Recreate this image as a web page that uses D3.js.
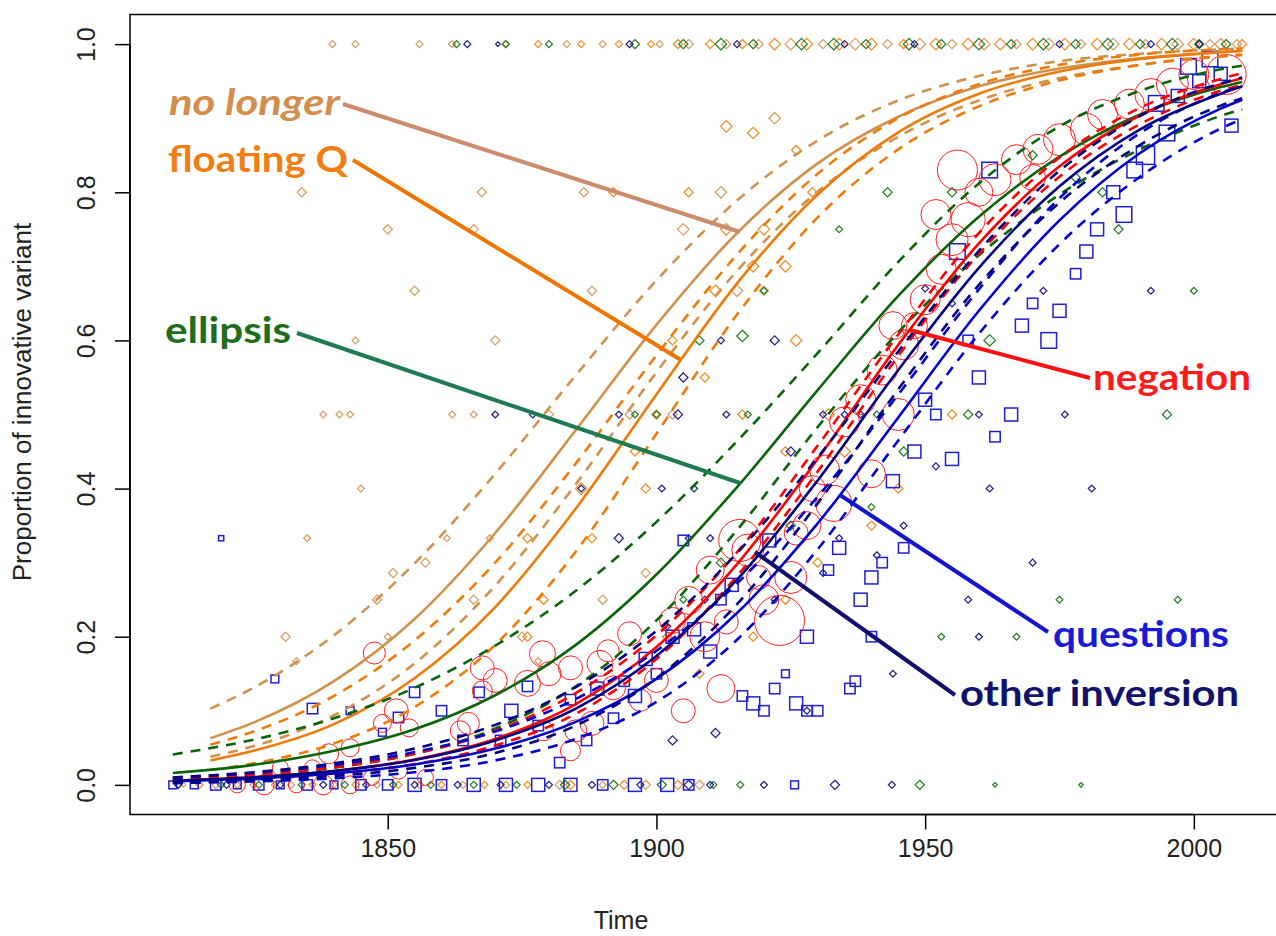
<!DOCTYPE html>
<html>
<head>
<meta charset="utf-8">
<script src="https://cdn.jsdelivr.net/npm/d3@7"></script>
<style>
  body { margin: 0; background: #fff; }
  .graph svg { display: block; }
</style>
</head>
<body>
<div class="graph"></div>
<script>
const fitYearsLong = [1810, 1825, 1840, 1855, 1870, 1885, 1900, 1915, 1930, 1945, 1960, 1975, 1990, 2005, 2009];
const fitYearsShort = [1817, 1825, 1840, 1855, 1870, 1885, 1900, 1915, 1930, 1945, 1960, 1975, 1990, 2005, 2009];

// fitted proportion + confidence band, per construction
const noLongerFit   = [0.063, 0.084, 0.140, 0.224, 0.340, 0.479, 0.621, 0.745, 0.839, 0.902, 0.943, 0.967, 0.981, 0.989, 0.991];
const noLongerUpper = [0.103, 0.131, 0.202, 0.299, 0.420, 0.553, 0.681, 0.789, 0.870, 0.924, 0.957, 0.977, 0.987, 0.993, 0.994];
const noLongerLower = [0.038, 0.052, 0.094, 0.164, 0.269, 0.406, 0.557, 0.694, 0.801, 0.875, 0.924, 0.954, 0.972, 0.983, 0.985];

const floatingFit   = [0.033, 0.046, 0.082, 0.144, 0.240, 0.373, 0.527, 0.677, 0.797, 0.881, 0.933, 0.963, 0.980, 0.989, 0.991];
const floatingUpper = [0.054, 0.072, 0.120, 0.195, 0.300, 0.434, 0.580, 0.716, 0.825, 0.900, 0.946, 0.972, 0.986, 0.993, 0.994];
const floatingLower = [0.020, 0.029, 0.056, 0.105, 0.189, 0.315, 0.474, 0.635, 0.766, 0.858, 0.916, 0.951, 0.972, 0.984, 0.986];

const ellipsisFit   = [0.016, 0.027, 0.046, 0.075, 0.121, 0.189, 0.284, 0.402, 0.533, 0.660, 0.767, 0.848, 0.905, 0.942, 0.949];
const ellipsisUpper = [0.041, 0.061, 0.090, 0.131, 0.188, 0.262, 0.355, 0.464, 0.583, 0.706, 0.812, 0.889, 0.937, 0.966, 0.971];
const ellipsisLower = [0.006, 0.012, 0.023, 0.042, 0.076, 0.133, 0.222, 0.344, 0.483, 0.611, 0.715, 0.797, 0.858, 0.903, 0.912];

const negationFit   = [0.0055, 0.0102, 0.0188, 0.0343, 0.062, 0.109, 0.186, 0.298, 0.440, 0.594, 0.731, 0.835, 0.904, 0.946, 0.954];
const negationUpper = [0.0075, 0.0135, 0.0239, 0.042, 0.073, 0.124, 0.202, 0.314, 0.458, 0.608, 0.745, 0.847, 0.914, 0.953, 0.961];
const negationLower = [0.0040, 0.0077, 0.0148, 0.028, 0.053, 0.096, 0.170, 0.282, 0.423, 0.579, 0.717, 0.821, 0.892, 0.937, 0.945];

const questionsFit   = [0.0048, 0.0086, 0.0155, 0.0276, 0.049, 0.085, 0.143, 0.232, 0.353, 0.496, 0.640, 0.762, 0.853, 0.913, 0.925];
const questionsUpper = [0.0097, 0.0162, 0.0269, 0.0443, 0.072, 0.116, 0.181, 0.272, 0.389, 0.527, 0.669, 0.792, 0.880, 0.934, 0.944];
const questionsLower = [0.0024, 0.0046, 0.0089, 0.0171, 0.033, 0.062, 0.112, 0.196, 0.318, 0.465, 0.609, 0.730, 0.821, 0.886, 0.899];

const otherFit   = [0.0057, 0.0103, 0.0187, 0.0336, 0.060, 0.103, 0.174, 0.277, 0.411, 0.560, 0.698, 0.808, 0.885, 0.933, 0.943];
const otherUpper = [0.010, 0.0171, 0.029, 0.049, 0.081, 0.132, 0.208, 0.313, 0.442, 0.585, 0.721, 0.829, 0.903, 0.947, 0.955];
const otherLower = [0.0032, 0.0062, 0.012, 0.0229, 0.043, 0.080, 0.144, 0.244, 0.380, 0.534, 0.675, 0.786, 0.864, 0.917, 0.927];

// observed proportions: [year, proportion, marker size]
const noLongerPts = [
  [1839.7,1,3],[1844.0,1,3],[1855.9,1,3],[1862.0,1,3],[1871.9,1,3],[1883.3,1,3],[1890,1,3],[1900.6,1,3],[1906,1,4],[1913,1,4],
  [1919,1,4],[1925,1,5],[1931,1,4],[1937,1,5],[1943,1,4],[1949,1,5],[1955,1,4],[1961,1,5],[1967,1,4],[1973,1,5],[1979,1,4],
  [1985,1,5],[1991,1,4],[1997,1,5],[2003,1,4],[2008,1,4],
  [1834,0.8,4],[1867.5,0.8,4],[1886.5,0.8,4],[1850,0.75,4],[1866,0.75,4],[1855,0.667,4],[1888,0.667,4],[1844,0.6,3],[1870,0.6,4],
  [1838,0.5,3],[1841,0.5,3],[1843,0.5,3],[1862,0.5,3],[1866,0.5,3],[1880,0.5,4],[1835,0.333,3],[1861,0.333,3],[1869,0.333,3],
  [1845,0.4,3],[1831,0.2,4],[1848,0.25,4],[1851,0.286,4],[1857,0.3,4],[1850,0.2,3],[1866,0.25,4],[1875,0.2,4],[1878,0.167,3],
  [1833,0.167,3],[1890,0.25,4],[1898,0.286,4],[1905,0.75,5],[1912,0.8,5],[1922,0.9,5],[1915,0.667,5],[1920,0.667,4],[1895,0.5,4],[1903,0.5,4],
  [1812,0,2],[1818,0,3],[1825,0,3],[1832,0,3],[1840,0,3],[1848,0,3],[1856,0,3],[1864,0,3],[1872,0,3],[1882,0,4],[1890,0,3],[1898,0,4],[1908,0,4]
];
const floatingPts = [
  [1878,1,3],[1886,1,3],[1893,1,3],[1899,1,3],[1904,1,4],[1910,1,4],[1916,1,4],[1922,1,5],[1928,1,5],[1934,1,5],[1940,1,5],[1946,1,4],
  [1952,1,5],[1958,1,5],[1964,1,5],[1970,1,5],[1976,1,5],[1982,1,5],[1988,1,5],[1994,1,5],[2000,1,5],[2005,1,5],[2009,1,4],
  [1913,0.889,5],[1918,0.88,5],[1926,0.857,4],[1929,0.8,4],[1913,0.75,5],[1920,0.75,5],[1906,0.8,4],[1918,0.7,5],[1924,0.7,5],
  [1911,0.667,5],[1926,0.6,5],[1903,0.6,4],[1909,0.55,4],[1916,0.5,4],[1900,0.5,4],[1896,0.45,4],[1924,0.45,4],[1932,0.5,5],[1935,0.45,5],
  [1888,0.333,4],[1876,0.333,4],[1886,0.4,5],[1898,0.4,4],[1879,0.25,4],[1876,0.2,4],[1902,0.2,4],[1918,0.2,4],[1908,0.15,4],[1924,0.25,4],
  [1930,0.3,4],[1945,0.4,4],[1955,0.5,4],[1940,0.35,4],[1892,0.8,4],
  [1815,0,3],[1822,0,3],[1829,0,3],[1836,0,3],[1844,0,3],[1852,0,3],[1860,0,3],[1868,0,3],[1876,0,3],[1884,0,4],[1894,0,4],[1904,0,4]
];
const ellipsisPts = [
  [1862.8,1,3],[1872,1,3],[1880,1,3],[1896,1,4],[1905,1,4],[1912,1,5],[1918,1,4],[1927,1,5],[1933,1,5],[1939,1,4],[1947,1,5],[1953,1,4],
  [1960,1,5],[1966,1,4],[1972,1,5],[1978,1,4],[1984,1,5],[1990,1,4],[1996,1,5],[2001,1,4],[2006,1,4],
  [1908,0.6,4],[1916,0.606,5],[1900,0.5,3],[1896,0.5,3],[1917,0.5,3],[1905,0.25,3],[1912,0.3,4],[1941,0.5,3],[1920,0.667,3],[1934,0.75,3],
  [1943,0.8,4],[1955,0.8,4],[1957,0.7,4],[1962,0.6,5],[1958,0.5,4],[1970,0.85,4],[1983,0.8,4],[1995,0.5,4],[1997,0.25,3],[1975,0.25,3],
  [1967,0.2,3],[1953,0.2,3],[1940,0.375,3],[1978,0.82,4],[2000,0.667,3],[1925,0.35,4],[1946,0.45,4],[1986,0.75,4],
  [1811,0,3],[1819,0,3],[1826,0,3],[1834,0,3],[1842,0,3],[1851,0,3],[1858,0,3],[1866,0,3],[1874,0,3],[1883,0,4],[1892,0,4],[1901,0,4],
  [1910.6,0,3],[1915.6,0,3],[1949,0,4],[1963,0,2],[1979,0,2]
];
const otherPts = [
  [1864.8,1,3],[1870.5,1,2],[1895,1,3],[1915,1,3],[1935,1,3],[1948,1,3],[1975,1,3],[1992,1,3],[2001,1,3],
  [1870,0.5,3],[1877,0.5,3],[1893,0.5,3],[1904,0.5,4],[1913,0.5,3],[1931,0.5,3],[1935,0.5,3],[1938,0.5,3],[1960,0.5,3],[1976,0.5,3],
  [1886,0.4,3],[1901,0.4,3],[1907,0.4,3],[1893,0.333,4],[1906,0.333,3],[1910,0.333,3],[1909,0.25,3],[1902,0.214,3],[1922,0.25,3],
  [1934,0.333,3],[1931,0.286,3],[1912,0.6,3],[1922,0.6,4],[1905,0.55,4],[1925,0.45,4],[1944,0.15,3],[1946,0.35,3],[1950,0.67,3],
  [1952,0.43,3],[1958,0.25,3],[1962,0.4,3],[1970,0.3,3],[1972,0.667,3],[1981,0.4,3],[1992,0.667,3],[1903,0.06,4],[1911,0.07,4],
  [1928,0.1,3],[1941,0.31,3],[1955,0.65,3],[1960,0.2,3],
  [1811,0,3],[1820,0,3],[1830,0,3],[1838,0,3],[1846,0,3],[1855,0,3],[1863,0,3],[1871,0,3],[1880,0,3],[1888,0,3],[1897,0,3],
  [1906,0,4],[1910,0,3],[1920,0,3],[1933.2,0,4],[1943.8,0,3]
];
const questionsPts = [
  [1810,0,3],[1814,0,3],[1818,0,4],[1822,0,3],[1826,0,4],[1830,0,3],[1835,0,4],[1840,0,3],[1845,0,4],[1850,0,4],[1855,0,5],
  [1860,0,4],[1866,0,5],[1872,0,5],[1878,0,5],[1884,0,5],[1890,0,4],[1896,0,5],[1902,0,5],[1906,0,4],[1925.7,0,3],
  [1819,0.333,2],[1829,0.143,3],[1836,0.103,4],[1843,0.1,3],[1849,0.071,3],[1852,0.091,4],[1855,0.125,4],[1860,0.1,4],[1864,0.06,4],
  [1867,0.125,4],[1871,0.06,4],[1873,0.1,5],[1876,0.133,4],[1878,0.08,4],[1882,0.03,4],[1884,0.115,4],[1887,0.06,4],[1889,0.13,5],
  [1892,0.09,4],[1894,0.14,4],[1896,0.12,5],[1898,0.17,5],[1900,0.15,4],[1903,0.2,5],[1905,0.33,4],[1907,0.21,5],[1910,0.18,5],
  [1912,0.25,4],[1914,0.27,5],[1916,0.12,4],[1918,0.11,5],[1920,0.1,4],[1922,0.13,4],[1924,0.15,3],[1926,0.11,5],[1928,0.1,4],
  [1932,0.29,4],[1934,0.32,5],[1936,0.13,4],[1938,0.25,5],[1940,0.28,5],[1942,0.3,4],[1944,0.41,5],[1946,0.32,4],[1948,0.45,5],
  [1950,0.52,5],[1952,0.5,4],[1955,0.44,5],[1958,0.6,4],[1960,0.55,5],[1963,0.47,4],[1966,0.5,5],[1968,0.62,5],[1970,0.65,4],
  [1973,0.6,6],[1975,0.64,5],[1978,0.69,4],[1980,0.72,5],[1982,0.75,5],[1985,0.8,5],[1987,0.77,6],[1989,0.83,6],[1991,0.85,7],
  [1993,0.92,6],[1995,0.88,6],[1997,0.93,5],[1999,0.97,6],[2001,0.95,5],[2003,0.98,6],[2005,0.96,5],[2007,0.89,5],[1956,0.72,6],
  [1962,0.83,6],[1940,0.2,4],[1937,0.14,4],[1930,0.1,4],[1921,0.33,5],[1928,0.2,5]
];
const negationPts = [
  [1822,0,8],[1827,0,10],[1833,0,8],[1838,0,10],[1843,0,9],[1847,0.01,8],[1852,0.02,9],[1857,0.01,8],
  [1847.5,0.178,11],[1851.6,0.10,12],[1849,0.083,9],[1854,0.077,9],[1839,0.042,10],[1836,0.023,8],[1830,0.023,8],[1843,0.05,9],
  [1867.6,0.158,12],[1870,0.141,12],[1867.6,0.127,10],[1876,0.137,13],[1865,0.083,11],[1863.5,0.073,10],[1878.8,0.177,13],
  [1880,0.15,12],[1884,0.158,12],[1889.5,0.164,13],[1892,0.131,12],[1888,0.083,12],[1885,0.073,11],[1879,0.073,10],[1895,0.204,12],
  [1891,0.181,11],[1884,0.046,10],[1897,0.114,11],[1900,0.141,12],[1903,0.222,13],[1906,0.249,14],[1910,0.29,14],[1917,0.317,16],
  [1922.9,0.222,25],[1915.5,0.33,21],[1909,0.2,15],[1912,0.13,14],[1905,0.1,12],[1920,0.25,15],[1925,0.28,16],[1928,0.35,14],
  [1931.3,0.425,15],[1935,0.49,15],[1938,0.52,15],[1942,0.56,15],[1946,0.594,15],[1950,0.655,15],[1953,0.696,15],[1955,0.736,16],
  [1956,0.83,20],[1958,0.763,17],[1963,0.817,16],[1967,0.844,15],[1971,0.858,15],[1975,0.871,16],[1980,0.885,16],[1983,0.905,15],
  [1988,0.919,15],[1992,0.932,16],[1996,0.946,16],[2000,0.959,15],[2006,0.959,20],[1933,0.38,18],[1940,0.42,14],[1945,0.5,16],
  [1952,0.77,15],[1960,0.8,14],[1970,0.82,13],[1929,0.4,13],[1926,0.34,12],[1919,0.28,12],[1913,0.22,12],[1944,0.62,14],[1948,0.62,13]
];

// axis ticks
const xTicks = [1850, 1900, 1950, 2000];
const yTicks = [0, 0.2, 0.4, 0.6, 0.8, 1.0];

const svgDim = { w: 1276, h: 936 };
const box = { left: 130, right: 1285, top: 14.5, bottom: 814.5 };

const svg = d3.select('.graph').append('svg')
    .attr('width', svgDim.w).attr('height', svgDim.h)
    .style('font-family', '"Liberation Sans", Arial, sans-serif');

// R-style 4% padding around the data range
const xScale = d3.scaleLinear().domain([1802.04, 2016.96]).range([box.left, box.right]);
const yScale = d3.scaleLinear().domain([-0.04, 1.04]).range([box.bottom, box.top]);

const plot = svg.append('g');

const diamond = s => `M0,${-s}L${s},0L0,${s}L${-s},0Z`;

const drawDiamonds = (pts, color) => {
    plot.append('g').selectAll('path').data(pts).enter().append('path')
        .attr('d', d => diamond(d[2] * 1.15))
        .attr('transform', d => `translate(${xScale(d[0])},${yScale(d[1])})`)
        .attr('fill', 'none').attr('stroke', color).attr('stroke-width', 1.2);
};

drawDiamonds(noLongerPts, '#D99A5E');
drawDiamonds(floatingPts, '#F08A20');
drawDiamonds(ellipsisPts, '#1E7A1E');
drawDiamonds(otherPts, '#1A1A8C');

plot.append('g').selectAll('rect').data(questionsPts).enter().append('rect')
    .attr('x', d => xScale(d[0]) - d[2] * 1.3)
    .attr('y', d => yScale(d[1]) - d[2] * 1.3)
    .attr('width', d => d[2] * 2.6).attr('height', d => d[2] * 2.6)
    .attr('fill', 'none').attr('stroke', '#1E1ED2').attr('stroke-width', 1.5);

plot.append('g').selectAll('circle').data(negationPts).enter().append('circle')
    .attr('cx', d => xScale(d[0])).attr('cy', d => yScale(d[1])).attr('r', d => d[2])
    .attr('fill', 'none').attr('stroke', '#FF2020').attr('stroke-width', 1);

// fitted curves
const fits = [
    { years: fitYearsShort, fit: noLongerFit, up: noLongerUpper, lo: noLongerLower, color: '#D0914F' },
    { years: fitYearsShort, fit: floatingFit, up: floatingUpper, lo: floatingLower, color: '#EE7A0A' },
    { years: fitYearsLong, fit: ellipsisFit, up: ellipsisUpper, lo: ellipsisLower, color: '#0A640A' },
    { years: fitYearsLong, fit: negationFit, up: negationUpper, lo: negationLower, color: '#FF0000' },
    { years: fitYearsLong, fit: questionsFit, up: questionsUpper, lo: questionsLower, color: '#0000CD' },
    { years: fitYearsLong, fit: otherFit, up: otherUpper, lo: otherLower, color: '#000080' }
];

const line = d3.line().x(d => xScale(d[0])).y(d => yScale(d[1])).curve(d3.curveMonotoneX);

fits.forEach(f => {
    [f.up, f.lo].forEach(vals => {
        plot.append('path').attr('d', line(f.years.map((yr, i) => [yr, vals[i]])))
            .attr('fill', 'none').attr('stroke', f.color).attr('stroke-width', 2.6)
            .attr('stroke-dasharray', '10,8');
    });
    plot.append('path').attr('d', line(f.years.map((yr, i) => [yr, f.fit[i]])))
        .attr('fill', 'none').attr('stroke', f.color).attr('stroke-width', 2.6);
});

// box and axes
svg.append('rect').attr('x', box.left).attr('y', box.top)
    .attr('width', box.right - box.left).attr('height', box.bottom - box.top)
    .attr('fill', 'none').attr('stroke', '#000').attr('stroke-width', 1.5);

const xAxis = d3.axisBottom(xScale).tickValues(xTicks).tickSize(15).tickPadding(10).tickFormat(d3.format('d'));
const gx = svg.append('g').attr('transform', `translate(0,${box.bottom})`).call(xAxis).attr('id', 'x-axis');
gx.select('.domain').attr('d', `M${xScale(1850)},0H${xScale(2000)}`).attr('stroke-width', 1.5);
gx.selectAll('.tick line').attr('stroke-width', 1.5);
gx.selectAll('text').attr('font-size', 25).attr('font-family', '"Liberation Sans", Arial, sans-serif').attr('fill', '#222');

const yAxis = d3.axisLeft(yScale).tickValues(yTicks).tickSize(15).tickFormat(d3.format('.1f'));
const gy = svg.append('g').attr('transform', `translate(${box.left},0)`).call(yAxis).attr('id', 'y-axis');
gy.select('.domain').attr('d', `M0,${yScale(0)}V${yScale(1)}`).attr('stroke-width', 1.5);
gy.selectAll('.tick line').attr('stroke-width', 1.5);
gy.selectAll('text').remove();
gy.selectAll('.tick').append('text')
    .attr('transform', 'translate(-35,0) rotate(-90)')
    .attr('text-anchor', 'middle').attr('fill', '#222')
    .attr('font-size', 25).attr('font-family', '"Liberation Sans", Arial, sans-serif')
    .text(d => d3.format('.1f')(d));

svg.append('text').attr('x', 621).attr('y', 929).attr('text-anchor', 'middle')
    .attr('font-size', 25).attr('fill', '#222').text('Time');
svg.append('text').attr('transform', 'translate(31,402) rotate(-90)').attr('text-anchor', 'middle')
    .attr('font-size', 26).attr('fill', '#222').text('Proportion of innovative variant');

// labels with pointer lines
const labels = [
    { text: 'no longer', x: 169, y: 115, w: 171, italic: true, color: '#D38D4C', lineColor: '#CC8C6C', from: [343, 104], to: [740, 232] },
    { text: 'floating Q', x: 168, y: 172, w: 180, color: '#F07E12', lineColor: '#EE7600', from: [353, 160], to: [681, 360] },
    { text: 'ellipsis', x: 165, y: 343, w: 126, color: '#1C6E1C', lineColor: '#1F7A52', from: [297, 333], to: [740, 483] },
    { text: 'negation', x: 1093, y: 390, w: 158, color: '#FF1A1A', lineColor: '#FF1010', from: [1090, 378], to: [910, 330] },
    { text: 'questions', x: 1053, y: 647, w: 176, color: '#1A1AD6', lineColor: '#1414D0', from: [1048, 632], to: [840, 495] },
    { text: 'other inversion', x: 960, y: 706, w: 279, color: '#12126E', lineColor: '#10106E', from: [955, 695], to: [755, 552] }
];

labels.forEach(l => {
    svg.append('line').attr('x1', l.from[0]).attr('y1', l.from[1]).attr('x2', l.to[0]).attr('y2', l.to[1])
        .attr('stroke', l.lineColor).attr('stroke-width', 4);
    svg.append('text').attr('x', l.x).attr('y', l.y)
        .attr('font-family', 'Lato, "Open Sans", sans-serif').attr('font-weight', 'bold')
        .attr('font-style', l.italic ? 'italic' : 'normal')
        .attr('font-size', 36).attr('fill', l.color)
        .attr('textLength', l.w).attr('lengthAdjust', 'spacingAndGlyphs')
        .text(l.text);
});
</script>
</body>
</html>
